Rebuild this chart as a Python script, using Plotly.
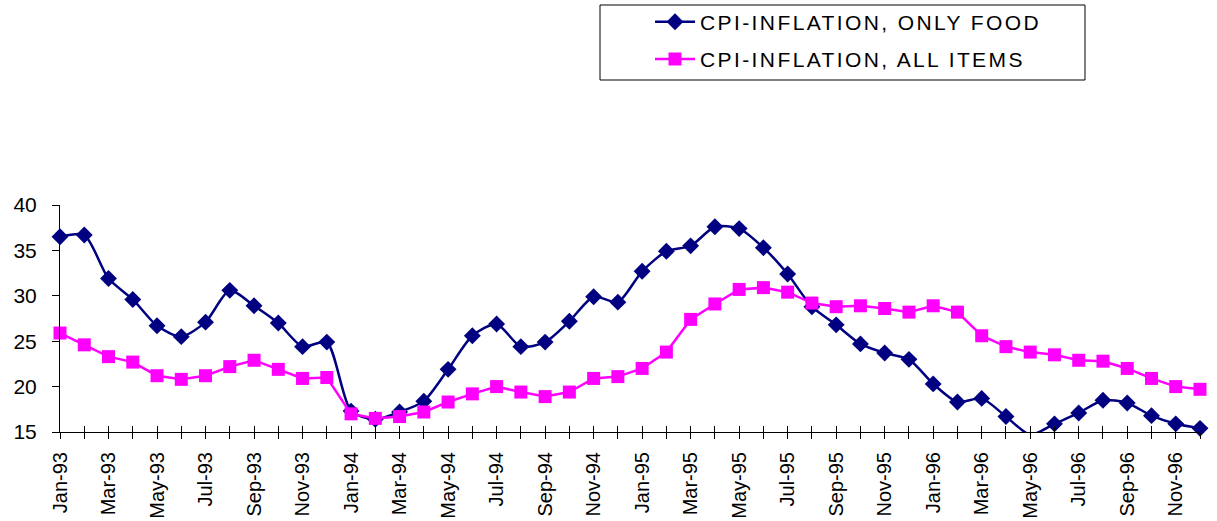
import plotly.graph_objects as go

months = ["Jan", "Feb", "Mar", "Apr", "May", "Jun", "Jul", "Aug", "Sep", "Oct", "Nov", "Dec"]
years = ["93", "94", "95", "96"]
dates = [f"{m}-{y}" for y in years for m in months]

food = [36.5, 36.7, 31.9, 29.6, 26.7, 25.5, 27.1, 30.6, 28.9, 27.0, 24.4, 24.9,
        17.3, 16.4, 17.2, 18.4, 21.9, 25.6, 26.9, 24.4, 24.9, 27.2, 29.9, 29.3,
        32.7, 34.9, 35.5, 37.6, 37.4, 35.3, 32.4, 28.8, 26.8, 24.7, 23.7, 23.0,
        20.3, 18.3, 18.7, 16.7, 14.7, 15.9, 17.1, 18.5, 18.2, 16.8, 15.9, 15.4]

all_items = [25.9, 24.6, 23.3, 22.7, 21.2, 20.8, 21.2, 22.2, 22.9, 21.9, 20.9, 21.0,
             17.0, 16.5, 16.7, 17.2, 18.3, 19.2, 20.0, 19.4, 18.9, 19.4, 20.9, 21.1,
             22.0, 23.8, 27.4, 29.1, 30.7, 30.9, 30.4, 29.2, 28.8, 28.9, 28.6, 28.2,
             28.9, 28.2, 25.6, 24.4, 23.8, 23.5, 22.9, 22.8, 22.0, 20.9, 20.0, 19.7]

x = list(range(len(dates)))
ticktext = [d if i % 2 == 0 else "" for i, d in enumerate(dates)]

LS = 'style="letter-spacing:2.4px"'

W, H = 1217, 521
# plot area in pixels: x 60..1200, y 205..432
L, R, T, B = 60, 1200, 205, 432
def px(v):
    return (v - L) / (R - L)
def py(v):
    return (B - v) / (B - T)

fig = go.Figure()
fig.add_trace(go.Scatter(
    x=x, y=food, mode="lines+markers",
    name=f'<span {LS}>CPI-INFLATION, ONLY FOOD</span>',
    legendgroup="a",
    line=dict(color="#000080", width=2.5, shape="spline", smoothing=0.7),
    marker=dict(symbol="diamond", size=13, color="#000080"),
    cliponaxis=False,
))
fig.add_trace(go.Scatter(
    x=x, y=all_items, mode="lines+markers",
    name=f'<span {LS}>CPI-INFLATION, ALL ITEMS</span>',
    legendgroup="b",
    line=dict(color="#FF00FF", width=2.5),
    marker=dict(symbol="square", size=13, color="#FF00FF"),
    cliponaxis=False,
))
fig.add_trace(go.Scatter(x=[0], y=[None], xaxis="x2", showlegend=False, hoverinfo="skip"))

font_family = "Liberation Sans, Arial, sans-serif"

fig.update_layout(
    width=W, height=H,
    margin=dict(l=L, r=W - R, t=T, b=H - B, autoexpand=False),
    paper_bgcolor="white", plot_bgcolor="white",
    font=dict(family=font_family, color="black"),
    showlegend=True,
    legend=dict(
        xref="container", yref="container",
        x=650 / W, y=0.997, xanchor="left", yanchor="top",
        borderwidth=0, bgcolor="rgba(0,0,0,0)",
        font=dict(size=21, family=font_family),
        tracegroupgap=7, itemwidth=40,
    ),
    xaxis=dict(
        range=[0, 47], tickmode="array", tickvals=x, ticktext=ticktext,
        tickangle=-90, ticks="outside", ticklen=6, tickcolor="black",
        showline=True, linecolor="black", linewidth=1, showgrid=False, zeroline=False,
        tickfont=dict(size=20, family=font_family), automargin=False,
        ticklabelstandoff=5,
    ),
    xaxis2=dict(
        range=[0, 47], tickmode="array", tickvals=x, ticktext=[""] * len(x),
        overlaying="x", anchor="y", side="bottom", ticks="inside", ticklen=6,
        tickcolor="black", showline=False, showgrid=False, zeroline=False,
        showticklabels=False, automargin=False,
    ),
    yaxis=dict(
        range=[15, 40], tickmode="array", tickvals=[15, 20, 25, 30, 35, 40],
        ticks="outside", ticklen=7, tickcolor="black",
        showline=True, linecolor="black", linewidth=1, showgrid=False, zeroline=False,
        tickfont=dict(size=21, family=font_family), automargin=False,
        ticklabelstandoff=11,
    ),
    shapes=[dict(type="rect", xref="paper", yref="paper",
                 x0=px(600), x1=px(1085), y0=py(80), y1=py(5),
                 line=dict(color="black", width=1), fillcolor="rgba(0,0,0,0)")],
)

fig.write_html(
    "out.html",
    config={"displayModeBar": False},
    post_script="document.body.style.margin='0';document.body.style.overflow='hidden';",
)
